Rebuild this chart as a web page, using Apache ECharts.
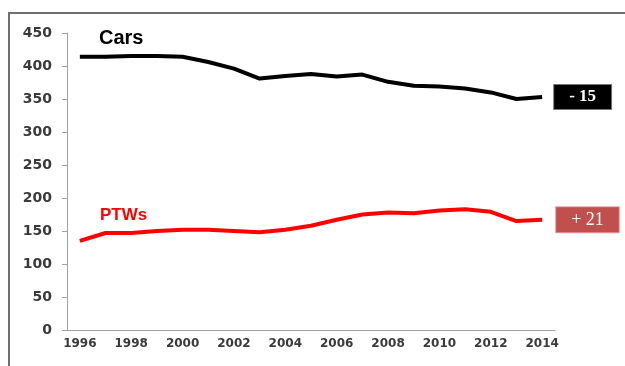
<!DOCTYPE html>
<html>
<head>
<meta charset="utf-8">
<script src="https://cdn.jsdelivr.net/npm/echarts@6/dist/echarts.min.js"></script>
<style>
  html, body { margin: 0; padding: 0; background: #fff; }
  #main { width: 625px; height: 366px; }
</style>
</head>
<body>
<div id="main"></div>
<script>
const years = ['1996', '1997', '1998', '1999', '2000', '2001', '2002', '2003', '2004', '2005',
  '2006', '2007', '2008', '2009', '2010', '2011', '2012', '2013', '2014']
const cars = [414, 414, 415, 415, 414, 406, 396, 381, 385, 388, 384, 387, 376, 370, 369, 366, 360, 350, 353]
const ptws = [135, 147, 147, 150, 152, 152, 150, 148, 152, 158, 167, 175, 178, 177, 181, 183, 179, 165, 167]
const carsChange = '- 15'
const ptwsChange = '+ 21'

const myChart = echarts.init(document.getElementById('main'))

const axisFont = {
  fontFamily: 'DejaVu Sans',
  fontWeight: 'bold',
  color: '#3a3a3a'
}

myChart.setOption({
  animation: false,
  grid: {
    left: 67,
    right: 70,
    top: 33,
    bottom: 36
  },
  xAxis: {
    type: 'category',
    data: years,
    boundaryGap: true,
    axisLine: { lineStyle: { color: '#a0a0a0', width: 1 } },
    axisTick: { interval: 0, length: 4, lineStyle: { color: '#a0a0a0' } },
    axisLabel: { ...axisFont, fontSize: 12, interval: 1, margin: 8 }
  },
  yAxis: {
    type: 'value',
    min: 0,
    max: 450,
    interval: 50,
    splitLine: { show: false },
    axisLine: { show: true, lineStyle: { color: '#a0a0a0', width: 1 } },
    axisTick: { show: true, length: 5, lineStyle: { color: '#a0a0a0' } },
    axisLabel: { ...axisFont, fontSize: 14, margin: 15 }
  },
  series: [
    {
      name: 'Cars',
      type: 'line',
      data: cars,
      symbol: 'none',
      lineStyle: { color: '#000', width: 4 },
      endLabel: {
        show: true,
        formatter: carsChange,
        distance: 12,
        color: '#fff',
        fontFamily: 'Liberation Serif',
        fontWeight: 'bold',
        fontSize: 17,
        backgroundColor: '#000',
        borderColor: '#777',
        borderWidth: 1,
        padding: [4, 15, 3, 15]
      }
    },
    {
      name: 'PTWs',
      type: 'line',
      data: ptws,
      symbol: 'none',
      lineStyle: { color: '#ff0000', width: 4 },
      endLabel: {
        show: true,
        formatter: ptwsChange,
        distance: 14,
        color: '#fff',
        fontFamily: 'Liberation Serif',
        fontSize: 18,
        backgroundColor: '#c0504d',
        borderColor: '#e8a0a0',
        borderWidth: 1,
        padding: [4, 15, 3, 15]
      }
    }
  ],
  graphic: [
    {
      type: 'polyline',
      shape: { points: [[9, 366], [9, 13], [625, 13]] },
      style: { stroke: '#6e6e6e', lineWidth: 2, fill: null }
    },
    {
      type: 'text',
      left: 99,
      top: 28,
      style: {
        text: 'Cars',
        font: 'bold 20px "Liberation Sans"',
        fill: '#000'
      }
    },
    {
      type: 'text',
      left: 100,
      top: 207,
      style: {
        text: 'PTWs',
        font: 'bold 17px "Liberation Sans"',
        fill: '#ff0000'
      }
    }
  ]
})
</script>
</body>
</html>
